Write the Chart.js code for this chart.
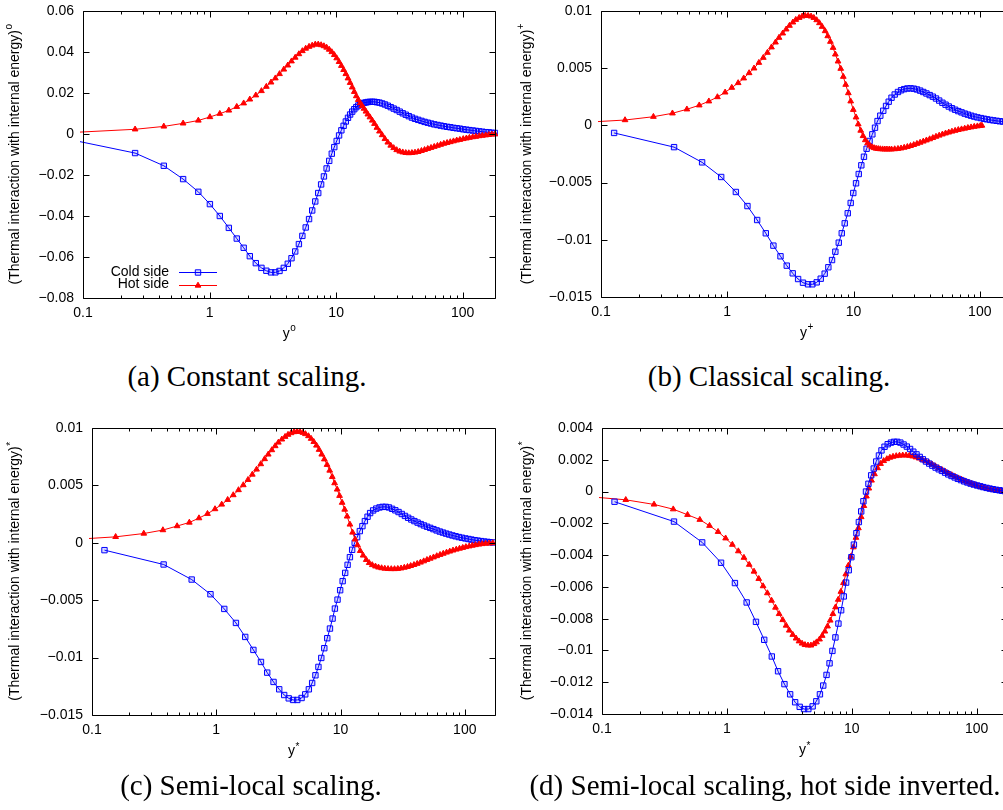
<!DOCTYPE html>
<html>
<head>
<meta charset="utf-8">
<script src="https://cdn.jsdelivr.net/npm/chart.js@4.4.1/dist/chart.umd.min.js"></script>
<style>
  html, body { margin: 0; padding: 0; background: #fff; overflow: hidden; }
  body { width: 1003px; height: 810px; position: relative; }
  .panel { position: absolute; }
  .caption {
    position: absolute; transform: translateX(-50%); white-space: nowrap;
    font-family: "Liberation Serif", "Times New Roman", serif; font-size: 29px; line-height: 29px; color: #000;
  }
</style>
</head>
<body>
<div class="panel" style="left:0;top:0"><canvas id="panelA" width="500" height="360"></canvas></div>
<div class="panel" style="left:500px;top:0"><canvas id="panelB" width="520" height="360"></canvas></div>
<div class="panel" style="left:0;top:410px"><canvas id="panelC" width="500" height="400"></canvas></div>
<div class="panel" style="left:500px;top:410px"><canvas id="panelD" width="520" height="400"></canvas></div>
<div class="caption" style="left:247px;top:362px">(a) Constant scaling.</div>
<div class="caption" style="left:769px;top:362px">(b) Classical scaling.</div>
<div class="caption" style="left:251px;top:771px">(c) Semi-local scaling.</div>
<div class="caption" style="left:765px;top:771px">(d) Semi-local scaling, hot side inverted.</div>

<script>
// ---- data ----
const seriesNames = ['Cold side', 'Hot side'];
const xTicks = [0.1, 1, 10, 100];
const yTicksConst = [-0.08, -0.06, -0.04, -0.02, 0, 0.02, 0.04, 0.06];
const yTicksPlus = [-0.015, -0.01, -0.005, 0, 0.005, 0.01];
const yTicksStar = [-0.015, -0.01, -0.005, 0, 0.005, 0.01];
const yTicksInv = [-0.014, -0.012, -0.01, -0.008, -0.006, -0.004, -0.002, 0, 0.002, 0.004];

// constant scaling: both walls share the wall-normal mesh
const yConst = [0.086, 0.258, 0.435, 0.618, 0.815, 1.006, 1.205, 1.42, 1.64, 1.86,
  2.08, 2.32, 2.57, 2.81, 3.06, 3.31, 3.57, 3.86, 4.15, 4.44, 4.75, 5.08, 5.41, 5.75,
  6.11, 6.47, 6.84, 7.22, 7.61, 8.01, 8.41, 8.82, 9.24, 9.67, 10.1, 10.55, 11.0, 11.46,
  11.93, 12.41, 12.9, 13.4, 13.91, 14.43, 14.96, 15.5, 16.05, 16.6, 17.2, 17.8, 18.5,
  19.3, 20.1, 21.0, 22.0, 23.1, 24.3, 25.6, 27.0, 28.5, 30.1, 31.8, 33.6, 35.5, 37.5,
  39.7, 42, 44.5, 47.2, 50, 53, 56.2, 59.6, 63.2, 67, 71, 75.3, 79.8, 84.6, 89.7, 95,
  101, 107, 113, 120, 127, 135, 143, 152, 161, 170, 180];
const coldConst = [-0.0032, -0.0093, -0.0155, -0.0220, -0.0282, -0.0342, -0.0400, -0.0458,
  -0.0510, -0.0555, -0.0596, -0.0630, -0.0653, -0.0667, -0.0675, -0.0675, -0.0668, -0.0653,
  -0.0633, -0.0606, -0.0573, -0.0537, -0.0497, -0.0456, -0.0415, -0.0373, -0.0329, -0.0288,
  -0.0246, -0.0207, -0.0168, -0.0131, -0.0096, -0.0064, -0.0034, -0.0007, 0.0018, 0.0040,
  0.0061, 0.0079, 0.0095, 0.0109, 0.0121, 0.0131, 0.0139, 0.0145, 0.0149, 0.0152, 0.0154,
  0.0156, 0.0157, 0.0157, 0.0157, 0.0155, 0.0153, 0.0149, 0.0144, 0.0138, 0.0131, 0.0124,
  0.0117, 0.0109, 0.0101, 0.0094, 0.0087, 0.0080, 0.0074, 0.0069, 0.0064, 0.0059, 0.0055,
  0.0051, 0.0047, 0.0044, 0.0041, 0.0038, 0.0035, 0.0033, 0.0030, 0.0028, 0.0026, 0.0023,
  0.0021, 0.0019, 0.0017, 0.0015, 0.0013, 0.0011, 0.0009, 0.0008, 0.0006, 0.0005];
const hotConst = [0.0008, 0.0023, 0.0037, 0.0052, 0.0066, 0.0083, 0.0099, 0.0115, 0.0133,
  0.0150, 0.0169, 0.0189, 0.0210, 0.0231, 0.0252, 0.0272, 0.0293, 0.0315, 0.0335, 0.0355,
  0.0373, 0.0390, 0.0405, 0.0417, 0.0426, 0.0432, 0.0437, 0.0437, 0.0434, 0.0429, 0.0422,
  0.0412, 0.0400, 0.0386, 0.0370, 0.0352, 0.0333, 0.0313, 0.0293, 0.0272, 0.0250, 0.0228,
  0.0206, 0.0185, 0.0167, 0.0151, 0.0137, 0.0124, 0.0110, 0.0096, 0.0082, 0.0066, 0.0050,
  0.0031, 0.0013, -0.0005, -0.0024, -0.0041, -0.0056, -0.0068, -0.0078, -0.0085, -0.0089,
  -0.0092, -0.0093, -0.0092, -0.0090, -0.0087, -0.0082, -0.0077, -0.0072, -0.0067, -0.0062,
  -0.0057, -0.0052, -0.0047, -0.0043, -0.0039, -0.0035, -0.0031, -0.0028, -0.0024, -0.0021,
  -0.0018, -0.0015, -0.0013, -0.0010, -0.0008, -0.0006, -0.0004, -0.0002, -0.0001];

// classical (wall-unit) scaling
const yPlusCold = [0.127, 0.379, 0.632, 0.895, 1.17, 1.445, 1.725, 2.02, 2.32, 2.64, 2.96,
  3.30, 3.64, 3.98, 4.36, 4.72, 5.11, 5.50, 5.91, 6.32, 6.76, 7.18, 7.64, 8.07, 8.52, 9.00,
  9.50, 9.96, 10.47, 11.00, 11.53, 12.10, 12.70, 13.40, 14.10, 14.80, 15.50, 16.30, 17.20,
  18.10, 19.00, 20.00, 21.2, 22.5, 23.8, 25.2, 26.7, 28.3, 30.0, 31.8, 33.7, 35.7, 37.8,
  40.1, 42.5, 45.0, 47.7, 50.6, 53.6, 56.8, 60.2, 63.8, 67.6, 71.7, 76.0, 80.5, 85.3, 90.4,
  95.8, 102, 108, 114, 121, 128, 136, 144, 153, 162, 171, 180];
const coldPlus = [-0.00066, -0.00190, -0.00323, -0.00451, -0.00582, -0.00705, -0.00827,
  -0.00943, -0.01051, -0.01144, -0.01226, -0.01293, -0.01343, -0.01375, -0.01389, -0.01389,
  -0.01372, -0.01340, -0.01296, -0.01240, -0.01177, -0.01104, -0.01025, -0.00943, -0.00856,
  -0.00768, -0.00678, -0.00591, -0.00506, -0.00425, -0.00349, -0.00274, -0.00204, -0.00136,
  -0.00078, -0.00020, 0.00038, 0.00085, 0.00128, 0.00170, 0.00207, 0.00242, 0.00270, 0.00292,
  0.00307, 0.00317, 0.00323, 0.00324, 0.00321, 0.00314, 0.00304, 0.00292, 0.00279, 0.00265,
  0.00251, 0.00235, 0.00217, 0.00198, 0.00181, 0.00165, 0.00150, 0.00137, 0.00125, 0.00114,
  0.00103, 0.00094, 0.00085, 0.00077, 0.00070, 0.00064, 0.00058, 0.00053, 0.00048, 0.00044,
  0.00040, 0.00036, 0.00033, 0.00030, 0.00027, 0.00025];
const yPlusHot = [0.052, 0.155, 0.26, 0.368, 0.479, 0.60, 0.715, 0.836, 0.962, 1.086, 1.22,
  1.35, 1.49, 1.63, 1.78, 1.93, 2.08, 2.24, 2.41, 2.57, 2.75, 2.93, 3.11, 3.31, 3.49, 3.71,
  3.92, 4.14, 4.37, 4.61, 4.85, 5.11, 5.37, 5.64, 5.96, 6.25, 6.56, 6.89, 7.18, 7.54, 7.92,
  8.30, 8.67, 9.10, 9.50, 9.96, 10.47, 10.90, 11.40, 11.90, 12.40, 12.92, 13.45, 14.0, 14.55,
  15.1, 15.7, 16.3, 17.0, 17.7, 18.4, 19.2, 20.0, 21.2, 22.5, 23.8, 25.2, 26.7, 28.3, 30.0,
  31.8, 33.7, 35.7, 37.8, 40.1, 42.5, 45.0, 47.7, 50.6, 53.6, 56.8, 60.2, 63.8, 67.6, 71.7,
  76.0, 80.5, 85.3, 90.4, 95.8, 101, 104];
const hotPlus = [0.00017, 0.00047, 0.00076, 0.00106, 0.00141, 0.00176, 0.00211, 0.00248,
  0.00289, 0.00330, 0.00371, 0.00412, 0.00458, 0.00499, 0.00548, 0.00592, 0.00636, 0.00683,
  0.00726, 0.00767, 0.00805, 0.00840, 0.00872, 0.00901, 0.00924, 0.00941, 0.00953, 0.00959,
  0.00959, 0.00953, 0.00941, 0.00921, 0.00895, 0.00863, 0.00825, 0.00781, 0.00732, 0.00679,
  0.00621, 0.00560, 0.00496, 0.00426, 0.00356, 0.00283, 0.00211, 0.00137, 0.00071, 0.00010,
  -0.00045, -0.00092, -0.00128, -0.00155, -0.00175, -0.00189, -0.00197, -0.00202, -0.00205,
  -0.00207, -0.00208, -0.00209, -0.00209, -0.00209, -0.00209, -0.00207, -0.00204, -0.00200,
  -0.00194, -0.00187, -0.00179, -0.00170, -0.00160, -0.00150, -0.00140, -0.00130, -0.00120,
  -0.00109, -0.00098, -0.00088, -0.00078, -0.00069, -0.00061, -0.00053, -0.00046, -0.00039,
  -0.00033, -0.00027, -0.00021, -0.00016, -0.00011, -0.00007, -0.00003, -0.00001];

// semi-local scaling
const yStarCold = [0.126, 0.377, 0.634, 0.898, 1.16, 1.44, 1.71, 1.99, 2.29, 2.57, 2.89,
  3.21, 3.52, 3.83, 4.15, 4.49, 4.86, 5.20, 5.56, 5.91, 6.28, 6.64, 7.00, 7.40, 7.82, 8.22,
  8.63, 9.01, 9.46, 9.93, 10.40, 10.90, 11.40, 11.90, 12.40, 13.00, 13.60, 14.30, 15.00,
  15.70, 16.50, 17.30, 18.3, 19.4, 20.6, 21.8, 23.1, 24.5, 26.0, 27.6, 29.3, 31.1, 33.0,
  35.0, 37.1, 39.3, 41.7, 44.2, 46.9, 49.7, 52.7, 55.9, 59.3, 62.9, 66.7, 70.7, 75.0, 79.5,
  84.3, 89.4, 94.8, 101, 107, 113, 120, 127, 135, 143, 152, 160, 168];
const coldStar = [-0.00064, -0.00189, -0.00320, -0.00448, -0.00576, -0.00698, -0.00820,
  -0.00933, -0.01038, -0.01131, -0.01212, -0.01276, -0.01326, -0.01355, -0.01369, -0.01369,
  -0.01352, -0.01320, -0.01276, -0.01221, -0.01154, -0.01081, -0.01003, -0.00918, -0.00831,
  -0.00747, -0.00660, -0.00573, -0.00495, -0.00413, -0.00334, -0.00262, -0.00192, -0.00125,
  -0.00061, 0.00000, 0.00049, 0.00102, 0.00145, 0.00189, 0.00227, 0.00259, 0.00282, 0.00298,
  0.00308, 0.00313, 0.00313, 0.00308, 0.00296, 0.00283, 0.00268, 0.00251, 0.00234, 0.00218,
  0.00203, 0.00189, 0.00176, 0.00163, 0.00151, 0.00140, 0.00130, 0.00119, 0.00108, 0.00098,
  0.00089, 0.00080, 0.00072, 0.00064, 0.00057, 0.00050, 0.00044, 0.00038, 0.00033, 0.00028,
  0.00023, 0.00019, 0.00015, 0.00011, 0.00008, 0.00005, 0.00003];
const yStarHot = [0.052, 0.155, 0.261, 0.372, 0.484, 0.607, 0.726, 0.850, 0.977, 1.106, 1.235,
  1.37, 1.51, 1.65, 1.80, 1.95, 2.11, 2.28, 2.45, 2.62, 2.80, 2.98, 3.16, 3.37, 3.58, 3.78,
  4.00, 4.22, 4.46, 4.71, 4.98, 5.22, 5.52, 5.80, 6.09, 6.40, 6.72, 7.06, 7.41, 7.79, 8.18,
  8.58, 8.96, 9.40, 9.82, 10.30, 10.80, 11.30, 11.90, 12.50, 13.10, 13.70, 14.40, 15.20,
  16.10, 17.0, 18.0, 19.1, 20.2, 21.4, 22.7, 24.1, 25.6, 27.2, 28.9, 30.7, 32.6, 34.6, 36.7,
  39.0, 41.4, 44.0, 46.7, 49.6, 52.7, 56.0, 59.5, 63.2, 67.1, 71.3, 75.7, 80.4, 85.4, 90.7,
  96.3, 102, 108.5, 115, 122, 130, 138, 147, 157, 168];
const hotStar = [0.00020, 0.00052, 0.00081, 0.00111, 0.00146, 0.00177, 0.00215, 0.00253,
  0.00294, 0.00334, 0.00375, 0.00416, 0.00460, 0.00503, 0.00549, 0.00595, 0.00639, 0.00686,
  0.00730, 0.00770, 0.00808, 0.00843, 0.00874, 0.00901, 0.00924, 0.00942, 0.00956, 0.00965,
  0.00968, 0.00968, 0.00959, 0.00948, 0.00930, 0.00907, 0.00880, 0.00848, 0.00811, 0.00770,
  0.00728, 0.00680, 0.00630, 0.00575, 0.00520, 0.00465, 0.00410, 0.00350, 0.00290, 0.00230,
  0.00160, 0.00090, 0.00030, -0.00020, -0.00070, -0.00110, -0.00148, -0.00175, -0.00193,
  -0.00205, -0.00214, -0.00220, -0.00224, -0.00227, -0.00228, -0.00228, -0.00226, -0.00222,
  -0.00216, -0.00209, -0.00201, -0.00192, -0.00182, -0.00171, -0.00160, -0.00148, -0.00137,
  -0.00126, -0.00115, -0.00104, -0.00094, -0.00084, -0.00075, -0.00066, -0.00058, -0.00050,
  -0.00043, -0.00036, -0.00030, -0.00024, -0.00019, -0.00014, -0.00010, -0.00007, -0.00004,
  -0.00002];
// panel (d) shows the hot side with its sign flipped
const hotStarInv = hotStar.map(v => -v);

// ---- drawing ----
const FONT = '"Liberation Sans", Arial, Helvetica, sans-serif';
Chart.defaults.font.family = FONT;
Chart.defaults.font.size = 14;
Chart.defaults.color = '#000';

const BLUE = '#0000ff';
const RED = '#ff0000';

function fmt(v) {
  if (Math.abs(v) < 1e-12) return '0';
  const s = String(+Math.abs(v).toPrecision(6));
  return v < 0 ? '\u2212' + s : s;
}

function minorTicks(min, max) {
  const out = [];
  for (let d = 0.1; d < max; d *= 10) {
    for (let k = 2; k < 10; k++) {
      const v = d * k;
      if (v > min && v < max) out.push(v);
    }
  }
  return out;
}

function drawSup(ctx, base, sup, cx, cy) {
  ctx.font = '14px ' + FONT;
  const w1 = ctx.measureText(base).width;
  ctx.font = '10px ' + FONT;
  const w2 = ctx.measureText(sup).width;
  const x0 = cx - (w1 + w2) / 2;
  ctx.textAlign = 'left';
  ctx.textBaseline = 'middle';
  ctx.font = '14px ' + FONT;
  ctx.fillText(base, x0, cy);
  ctx.font = '10px ' + FONT;
  ctx.fillText(sup, x0 + w1 + 0.5, cy - (sup === '*' ? 4 : 6));
}

function marker(ctx, style, x, y, color) {
  ctx.beginPath();
  if (style === 'rect') {
    ctx.rect(x - 2.7, y - 2.7, 5.4, 5.4);
    ctx.fillStyle = 'rgba(0,0,255,0.15)';
    ctx.fill();
    ctx.strokeStyle = color;
    ctx.stroke();
  } else {
    ctx.moveTo(x, y - 3.3);
    ctx.lineTo(x + 2.86, y + 1.65);
    ctx.lineTo(x - 2.86, y + 1.65);
    ctx.closePath();
    ctx.fillStyle = color;
    ctx.fill();
    ctx.strokeStyle = color;
    ctx.stroke();
  }
}

// box, inward ticks, axis titles and the key
function framePlugin(p) {
  return {
    id: 'frame',
    afterDatasetsDraw(chart) {
      const { ctx, chartArea: a, scales: { x, y } } = chart;
      ctx.save();
      ctx.strokeStyle = '#000';
      ctx.lineWidth = 1;
      ctx.beginPath();
      const T = Math.round(a.top) + 0.5, B = Math.round(a.bottom) + 0.5;
      const L = Math.round(a.left) + 0.5, R = Math.round(a.right) + 0.5;
      ctx.rect(L, T, R - L, B - T);
      for (const v of minorTicks(x.min, x.max)) {
        const px = Math.round(x.getPixelForValue(v)) + 0.5;
        ctx.moveTo(px, B); ctx.lineTo(px, B - 3);
        ctx.moveTo(px, T); ctx.lineTo(px, T + 3);
      }
      for (const v of xTicks) {
        const px = Math.round(x.getPixelForValue(v)) + 0.5;
        ctx.moveTo(px, B); ctx.lineTo(px, B - 6);
        ctx.moveTo(px, T); ctx.lineTo(px, T + 6);
      }
      for (const v of p.yTicks) {
        const py = Math.round(y.getPixelForValue(v)) + 0.5;
        ctx.moveTo(L, py); ctx.lineTo(L + 6, py);
        ctx.moveTo(R, py); ctx.lineTo(R - 6, py);
      }
      ctx.stroke();

      ctx.fillStyle = '#000';
      drawSup(ctx, 'y', p.sup, (a.left + a.right) / 2, a.bottom + 36);
      ctx.save();
      ctx.translate(a.left - p.yTitleOffset, (a.top + a.bottom) / 2);
      ctx.rotate(-Math.PI / 2);
      ctx.fillStyle = '#000';
      drawSup(ctx, '(Thermal interaction with internal energy)', p.sup, 0, 0);
      ctx.restore();

      if (p.legend) {
        const rows = [
          { label: seriesNames[0], color: BLUE, style: 'rect', y: a.top + 261 },
          { label: seriesNames[1], color: RED, style: 'triangle', y: a.top + 273.5 }
        ];
        for (const r of rows) {
          ctx.font = '14px ' + FONT;
          ctx.fillStyle = '#000';
          ctx.textAlign = 'right';
          ctx.textBaseline = 'middle';
          ctx.fillText(r.label, a.left + 86, r.y);
          const ly = Math.round(r.y) + 0.5;
          ctx.beginPath();
          ctx.strokeStyle = r.color;
          ctx.lineWidth = 1;
          ctx.moveTo(a.left + 96, ly);
          ctx.lineTo(a.left + 134, ly);
          ctx.stroke();
          marker(ctx, r.style, a.left + 115, ly, r.color);
        }
      }
      ctx.restore();
    }
  };
}

function series(label, xs, ys, color, style, order) {
  const cold = style === 'rect';
  return {
    label,
    data: xs.map((x, i) => ({ x, y: ys[i] })),
    borderColor: color,
    borderWidth: 1,
    tension: 0,
    pointStyle: style,
    pointRadius: cold ? 3.8 : 3.3,
    pointBorderWidth: 1,
    pointBorderColor: color,
    pointBackgroundColor: cold ? 'rgba(0,0,255,0.15)' : color,
    order,
    clip: 3
  };
}

// invisible tick marks keep the label gap without inflating the axis padding
const hiddenGrid = { display: true, drawOnChartArea: false, drawTicks: true, color: 'rgba(0,0,0,0)' };

function makePanel(p) {
  new Chart(document.getElementById(p.id), {
    type: 'line',
    data: { datasets: p.datasets },
    options: {
      responsive: false,
      animation: false,
      events: [],
      layout: { padding: p.padding },
      plugins: { legend: { display: false }, tooltip: { enabled: false } },
      scales: {
        x: {
          type: 'logarithmic',
          min: 0.1,
          max: p.xMax,
          afterBuildTicks: s => { s.ticks = xTicks.map(v => ({ value: v })); },
          afterFit: s => { s.height = p.xAxisHeight; },
          grid: { ...hiddenGrid, tickLength: 7 },
          border: { display: false },
          ticks: { padding: 0, maxRotation: 0, autoSkip: false, callback: v => fmt(v) }
        },
        y: {
          type: 'linear',
          min: p.yTicks[0],
          max: p.yTicks[p.yTicks.length - 1],
          afterBuildTicks: s => { s.ticks = p.yTicks.map(v => ({ value: v })); },
          afterFit: s => { s.width = p.yAxisWidth; },
          grid: { ...hiddenGrid, tickLength: 9 },
          border: { display: false },
          ticks: { padding: 0, autoSkip: false, callback: v => fmt(v) }
        }
      }
    },
    plugins: [framePlugin(p)]
  });
}

makePanel({
  id: 'panelA', sup: 'o', legend: true, yTicks: yTicksConst, xMax: 180,
  padding: { top: 11, right: 1, left: 0, bottom: 0 }, yAxisWidth: 83, xAxisHeight: 62, yTitleOffset: 68,
  datasets: [
    series(seriesNames[0], yConst, coldConst, BLUE, 'rect', 1),
    series(seriesNames[1], yConst, hotConst, RED, 'triangle', 0)
  ]
});

makePanel({
  id: 'panelB', sup: '+', legend: false, yTicks: yTicksPlus, xMax: 180,
  padding: { top: 11, right: 8, left: 0, bottom: 0 }, yAxisWidth: 101, xAxisHeight: 63, yTitleOffset: 74,
  datasets: [
    series(seriesNames[0], yPlusCold, coldPlus, BLUE, 'rect', 1),
    series(seriesNames[1], yPlusHot, hotPlus, RED, 'triangle', 0)
  ]
});

makePanel({
  id: 'panelC', sup: '*', legend: false, yTicks: yTicksStar, xMax: 175,
  padding: { top: 18, right: 2, left: 0, bottom: 0 }, yAxisWidth: 92, xAxisHeight: 95, yTitleOffset: 77,
  datasets: [
    series(seriesNames[0], yStarCold, coldStar, BLUE, 'rect', 1),
    series(seriesNames[1], yStarHot, hotStar, RED, 'triangle', 0)
  ]
});

makePanel({
  id: 'panelD', sup: '*', legend: false, yTicks: yTicksInv, xMax: 175,
  padding: { top: 18, right: 13, left: 0, bottom: 0 }, yAxisWidth: 102, xAxisHeight: 96, yTitleOffset: 75,
  datasets: [
    series(seriesNames[0], yStarCold, coldStar, BLUE, 'rect', 0),
    series(seriesNames[1], yStarHot, hotStarInv, RED, 'triangle', 1)
  ]
});
</script>
</body>
</html>
